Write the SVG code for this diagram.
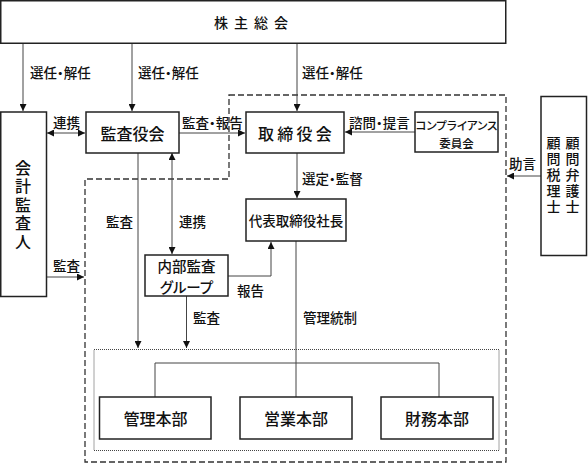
<svg xmlns="http://www.w3.org/2000/svg" width="588" height="463" viewBox="0 0 588 463">
<defs>
<style>
text{font-family:"Noto Sans CJK JP","Noto Sans",sans-serif;fill:#111;font-weight:500;dominant-baseline:central;font-feature-settings:"palt"}
.box{fill:#fff;stroke:#222;stroke-width:1.5}
.c{fill:none;stroke:#444;stroke-width:1}
.dash{fill:none;stroke:#333;stroke-width:1.3;stroke-dasharray:6,3}
.dot{fill:none;stroke:#444;stroke-width:1;stroke-dasharray:1,1}
.lbl{font-size:13.5px}
.n16{font-size:16px;text-anchor:middle}
.n15{font-size:14.5px;text-anchor:middle}
.n14{font-size:14px;text-anchor:middle}
.n11{font-size:11.5px;text-anchor:middle}
.vt{writing-mode:vertical-rl;text-anchor:middle}
.ar{marker-end:url(#ah)}
.dbl{marker-end:url(#ah);marker-start:url(#ah)}
</style>
<marker id="ah" markerUnits="userSpaceOnUse" markerWidth="7" markerHeight="7" refX="7" refY="3.5" orient="auto-start-reverse">
<path d="M0,0 L7,3.5 L0,7 z" fill="#111"/>
</marker>
</defs>

<g id="frames">
<polygon class="dash" points="229,95 506,95 506,462 85,462 85,179 229,179"/>
<rect class="dot" x="94" y="349.5" width="405" height="101"/>
</g>

<g id="connectors">
<line class="c ar" x1="23" y1="43" x2="23" y2="111"/>
<line class="c ar" x1="132" y1="43" x2="132" y2="111"/>
<line class="c ar" x1="297" y1="43" x2="297" y2="111"/>
<line class="c dbl" x1="47" y1="133" x2="85" y2="133"/>
<line class="c ar" x1="179" y1="133" x2="245" y2="133"/>
<line class="c ar" x1="415" y1="132" x2="345" y2="132"/>
<line class="c ar" x1="541" y1="176" x2="507" y2="176"/>
<line class="c ar" x1="297" y1="153" x2="297" y2="198"/>
<line class="c dbl" x1="172" y1="153" x2="172" y2="254"/>
<line class="c ar" x1="138" y1="153" x2="138" y2="348"/>
<line class="c ar" x1="186.5" y1="296" x2="186.5" y2="348"/>
<polyline class="c ar" points="228,276 271,276 271,242"/>
<line class="c ar" x1="47" y1="277" x2="84" y2="277"/>
<line class="c" x1="296" y1="241" x2="296" y2="397"/>
<polyline class="c" points="155,397 155,363 439,363 439,397"/>
</g>

<g id="labels">
<text class="lbl" x="30" y="72">選任・解任</text>
<text class="lbl" x="138" y="72">選任・解任</text>
<text class="lbl" x="302" y="72">選任・解任</text>
<text class="lbl" x="53" y="122">連携</text>
<text class="lbl" x="182" y="122">監査・報告</text>
<text class="lbl" x="349" y="122">諮問・提言</text>
<text class="lbl" x="509" y="163">助言</text>
<text class="lbl" x="302" y="178">選定・監督</text>
<text class="lbl" x="106" y="221">監査</text>
<text class="lbl" x="179" y="221">連携</text>
<text class="lbl" x="53" y="265">監査</text>
<text class="lbl" x="237" y="290">報告</text>
<text class="lbl" x="193" y="317">監査</text>
<text class="lbl" x="303" y="317">管理統制</text>
</g>

<g id="kabunushi">
<rect class="box" x="0.75" y="0.75" width="505" height="42.5"/>
<text class="n14" x="254" y="22" style="letter-spacing:6px">株主総会</text>
</g>

<g id="kaikei">
<rect class="box" x="0.75" y="112" width="45.75" height="184.5"/>
<text class="vt" x="23" y="206" style="font-size:16px;letter-spacing:2.5px">会計監査人</text>
</g>

<g id="kansayaku">
<rect class="box" x="86" y="112" width="93" height="41"/>
<text class="n16" x="132.5" y="132.5">監査役会</text>
</g>

<g id="torishimari">
<rect class="box" x="246" y="112" width="98" height="41"/>
<text class="n16" x="296.5" y="132.5" style="letter-spacing:3.3px">取締役会</text>
</g>

<g id="compliance">
<rect class="box" x="415" y="112" width="83" height="40"/>
<text class="n11" x="456.5" y="125">コンプライアンス</text>
<text class="n11" x="456.5" y="143">委員会</text>
</g>

<g id="komon">
<rect class="box" x="541" y="96.5" width="45.5" height="159"/>
<text class="vt" x="572.5" y="176" style="font-size:14px;letter-spacing:2px">顧問弁護士</text>
<text class="vt" x="553.5" y="176" style="font-size:14px;letter-spacing:2px">顧問税理士</text>
</g>

<g id="daihyo">
<rect class="box" x="246" y="199" width="100" height="42"/>
<text class="n14" x="296" y="220" style="font-size:13.5px">代表取締役社長</text>
</g>

<g id="naibu">
<rect class="box" x="145" y="255" width="83" height="41"/>
<text class="n15" x="186.5" y="265.5">内部監査</text>
<text class="n15" x="186.5" y="286.5">グループ</text>
</g>

<g id="kanri">
<rect class="box" x="99.5" y="397" width="111.5" height="42"/>
<text class="n16" x="155.5" y="418">管理本部</text>
</g>

<g id="eigyo">
<rect class="box" x="240" y="397" width="112" height="42"/>
<text class="n16" x="296" y="418">営業本部</text>
</g>

<g id="zaimu">
<rect class="box" x="381" y="397" width="112" height="42"/>
<text class="n16" x="437" y="418">財務本部</text>
</g>
</svg>
